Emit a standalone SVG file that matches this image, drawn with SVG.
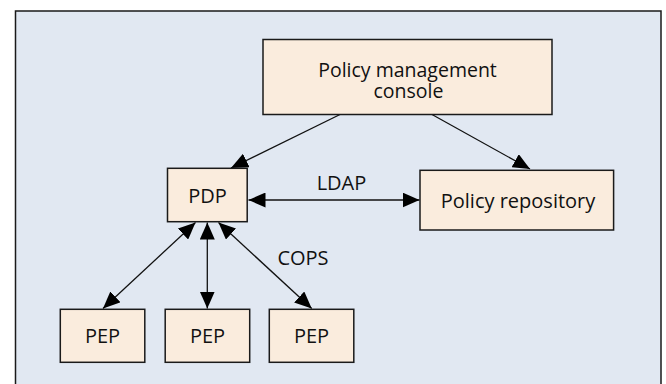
<svg xmlns="http://www.w3.org/2000/svg" width="666" height="384" viewBox="0 0 666 384">
  <defs>
    <style>
      .panel { fill: #e1e8f2; stroke: #1a1a1a; stroke-width: 1.5; }
      .box { fill: #faecdd; stroke: #1a1a1a; stroke-width: 1.5; }
      .lbl { font-family: "Open Sans", "Noto Sans", sans-serif; font-size: 20px; fill: #111; text-anchor: middle; }
      .tight { font-size: 19.5px; }
      .conn { stroke: #111; stroke-width: 1.3; fill: none; }
      .one { marker-end: url(#ah); }
      .two { marker-start: url(#ah); marker-end: url(#ah); }
    </style>
    <marker id="ah" markerUnits="userSpaceOnUse" markerWidth="18" markerHeight="15" refX="17" refY="7.5" orient="auto-start-reverse">
      <path d="M0,0 L17,7.5 L0,15 z" fill="#000"/>
    </marker>
  </defs>

  <rect class="panel" x="15.5" y="11" width="645.5" height="390"/>

  <g id="connectors">
    <line class="conn one" x1="340" y1="114.5" x2="231" y2="168"/>
    <line class="conn one" x1="432" y1="114.5" x2="530" y2="169"/>
    <line class="conn two" x1="248.5" y1="200" x2="419.5" y2="200"/>
    <line class="conn two" x1="195.5" y1="222.5" x2="103" y2="308.5"/>
    <line class="conn two" x1="207.3" y1="222.5" x2="207.3" y2="308.5"/>
    <line class="conn two" x1="218.5" y1="222.5" x2="311.7" y2="308.5"/>
    <text class="lbl" x="341.5" y="189.5">LDAP</text>
    <text class="lbl" x="303" y="265">COPS</text>
  </g>

  <g id="console">
    <rect class="box" x="263" y="39.5" width="289" height="75"/>
    <text class="lbl tight" x="407.5" y="76.8">Policy management</text>
    <text class="lbl tight" x="408.5" y="97.5">console</text>
  </g>

  <g id="pdp">
    <rect class="box" x="167.5" y="168.3" width="79.7" height="53.4"/>
    <text class="lbl" x="207.5" y="203.3">PDP</text>
  </g>

  <g id="repository">
    <rect class="box" x="420" y="170.3" width="193.6" height="59.7"/>
    <text class="lbl" x="518" y="208.3">Policy repository</text>
  </g>

  <g id="pep1">
    <rect class="box" x="60.3" y="309.3" width="84.5" height="53"/>
    <text class="lbl" x="102.5" y="343.3">PEP</text>
  </g>

  <g id="pep2">
    <rect class="box" x="165.2" y="309.3" width="84.5" height="53"/>
    <text class="lbl" x="207.5" y="343.3">PEP</text>
  </g>

  <g id="pep3">
    <rect class="box" x="269.3" y="309.3" width="84.5" height="53"/>
    <text class="lbl" x="311.5" y="343.3">PEP</text>
  </g>
</svg>
